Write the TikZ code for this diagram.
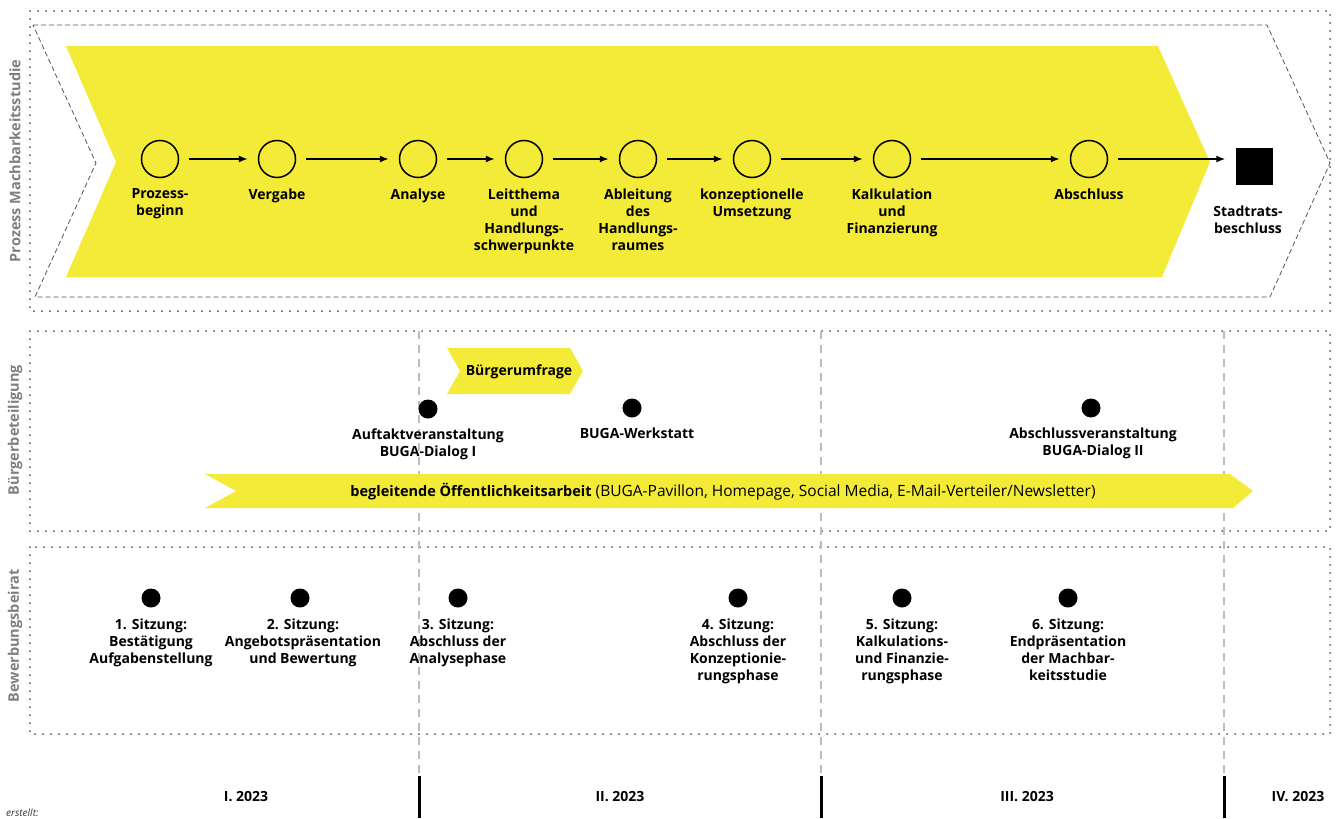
\documentclass[tikz,border=0pt]{standalone}
\usepackage{fontspec}
\setmainfont{Open Sans}
\usetikzlibrary{positioning,arrows.meta}

\definecolor{gelb}{HTML}{F4EA38}
\definecolor{rahmen}{HTML}{555555}
\definecolor{seite}{HTML}{7F7F7F}
\definecolor{hellgrau}{HTML}{BDBDBD}

\tikzset{
  feld/.style={rahmen, line width=2pt, dash pattern=on 0pt off 8pt, line cap=round},
  umriss/.style={rahmen, line width=0.8pt, dash pattern=on 5pt off 3pt},
  trennlinie/.style={hellgrau, line width=1.2pt, dash pattern=on 8pt off 6pt},
  quartal/.style={black, line width=3pt},
  kreis/.style={circle, draw, line width=1.5pt, minimum size=37pt, inner sep=0pt},
  punkt/.style={circle, fill, minimum size=19pt, inner sep=0pt},
  txt/.style={font=\bfseries\fontsize{14}{17}\selectfont, align=center, inner sep=0pt},
  seitentitel/.style={font=\bfseries\fontsize{14.5}{16}\selectfont, text=seite, rotate=90, inner sep=0pt},
  fluss/.style={-{Latex[length=9pt,width=7pt]}, line width=1.4pt, shorten <=10pt, shorten >=10pt}
}

\begin{document}
\begin{tikzpicture}[x=1pt, y=-1pt]
    \useasboundingbox (0,0) rectangle (1341,819);

    % Felder
    \draw[feld] (30,11) rectangle (1330,311);
    \draw[feld] (30,331) rectangle (1330,531);
    \draw[feld] (30,547) rectangle (1330,734);

    % Quartalsgrenzen
    \foreach \qx in {419,821,1224} {
        \draw[trennlinie] (\qx,331) -- (\qx,776);
        \draw[quartal] (\qx,776) -- (\qx,818);
    }

    % Prozess Machbarkeitsstudie
    \draw[umriss] (33,25) -- (1267,25) -- (1330,163) -- (1270,297) -- (35,297) -- (96,163) -- cycle;
    \fill[gelb] (66,46) -- (1158,46) -- (1210,162) -- (1162,277) -- (66,277) -- (116,162) -- cycle;

    \node[kreis] (beginn) at (160,159) {};
    \node[kreis] (vergabe) at (277,159) {};
    \node[kreis] (analyse) at (418,159) {};
    \node[kreis] (leitthema) at (524,159) {};
    \node[kreis] (ableitung) at (638,159) {};
    \node[kreis] (umsetzung) at (752,159) {};
    \node[kreis] (kalkulation) at (892,159) {};
    \node[kreis] (abschluss) at (1089,159) {};
    \node[fill, minimum size=37pt, inner sep=0pt] (beschluss) at (1254,166) {};

    \node[txt, below=10pt of beginn] (tbeginn) {Prozess-\\beginn};
    \node[txt, below=10pt of vergabe] (tvergabe) {Vergabe};
    \node[txt, below=10pt of analyse] (tanalyse) {Analyse};
    \node[txt, below=10pt of leitthema] (tleitthema) {Leitthema\\und\\Handlungs-\\schwerpunkte};
    \node[txt, below=10pt of ableitung] (tableitung) {Ableitung\\des\\Handlungs-\\raumes};
    \node[txt, below=10pt of umsetzung] (tumsetzung) {konzeptionelle\\Umsetzung};
    \node[txt, below=10pt of kalkulation] (tkalkulation) {Kalkulation\\und\\Finanzierung};
    \node[txt, below=10pt of abschluss] (tabschluss) {Abschluss};
    \node[txt, below=21pt of beschluss, xshift=-6pt] (tbeschluss) {Stadtrats-\\beschluss};

    \draw[fluss] (beginn) -- (vergabe);
    \draw[fluss] (vergabe) -- (analyse);
    \draw[fluss] (analyse) -- (leitthema);
    \draw[fluss] (leitthema) -- (ableitung);
    \draw[fluss] (ableitung) -- (umsetzung);
    \draw[fluss] (umsetzung) -- (kalkulation);
    \draw[fluss] (kalkulation) -- (abschluss);
    \draw[fluss] (abschluss) -- (abschluss -| beschluss.west);

    % Buergerbeteiligung
    \fill[gelb] (447,348) -- (570,348) -- (583,371) -- (570,394) -- (447,394) -- (460,371) -- cycle;
    \node[txt] (umfrage) at (519,372) {Bürgerumfrage};

    \node[punkt] (auftakt) at (428,409) {};
    \node[punkt] (werkstatt) at (632,408) {};
    \node[punkt] (schluss) at (1091,408) {};
    \node[txt, below=10pt of auftakt] (tauftakt) {Auftaktveranstaltung\\BUGA-Dialog I};
    \node[txt, below=10pt of werkstatt, xshift=5pt] (twerkstatt) {BUGA-Werkstatt};
    \node[txt, below=10pt of schluss, xshift=2pt] (tschluss) {Abschlussveranstaltung\\BUGA-Dialog II};

    \fill[gelb] (205,474) -- (1230,474) -- (1253,491) -- (1233,508) -- (205,508) -- (236,491) -- cycle;
    \node[inner sep=0pt, font=\fontsize{15.5}{17}\selectfont] (oeffentlich) at (723,492)
        {{\bfseries\fontsize{14.5}{17}\selectfont begleitende Öffentlichkeitsarbeit} (BUGA-Pavillon, Homepage, Social Media, E-Mail-Verteiler/Newsletter)};

    % Bewerbungsbeirat
    \node[punkt] (s1) at (151,598) {};
    \node[punkt] (s2) at (300,598) {};
    \node[punkt] (s3) at (458,598) {};
    \node[punkt] (s4) at (738,598) {};
    \node[punkt] (s5) at (902,598) {};
    \node[punkt] (s6) at (1068,598) {};
    \node[txt, below=11pt of s1] (ts1) {1. Sitzung:\\Bestätigung\\Aufgabenstellung};
    \node[txt, below=11pt of s2, xshift=3pt] (ts2) {2. Sitzung:\\Angebotspräsentation\\und Bewertung};
    \node[txt, below=11pt of s3] (ts3) {3. Sitzung:\\Abschluss der\\Analysephase};
    \node[txt, below=11pt of s4] (ts4) {4. Sitzung:\\Abschluss der\\Konzeptionie-\\rungsphase};
    \node[txt, below=11pt of s5] (ts5) {5. Sitzung:\\Kalkulations-\\und Finanzie-\\rungsphase};
    \node[txt, below=11pt of s6] (ts6) {6. Sitzung:\\Endpräsentation\\der Machbar-\\keitsstudie};

    % Seitentitel
    \node[seitentitel] (prozess) at (15,161) {Prozess Machbarkeitsstudie};
    \node[seitentitel] (buerger) at (15,430) {Bürgerbeteiligung};
    \node[seitentitel] (beirat) at (15,636) {Bewerbungsbeirat};

    % Quartale
    \node[txt, anchor=base] (q1) at (246,801) {I. 2023};
    \node[txt, anchor=base] (q2) at (620,801) {II. 2023};
    \node[txt, anchor=base] (q3) at (1027,801) {III. 2023};
    \node[txt, anchor=base] (q4) at (1298,801) {IV. 2023};

    \node[inner sep=0pt, anchor=base west, text=black!80, font=\itshape\fontsize{10}{12}\selectfont] (erstellt) at (6,816) {erstellt:};
\end{tikzpicture}
\end{document}
